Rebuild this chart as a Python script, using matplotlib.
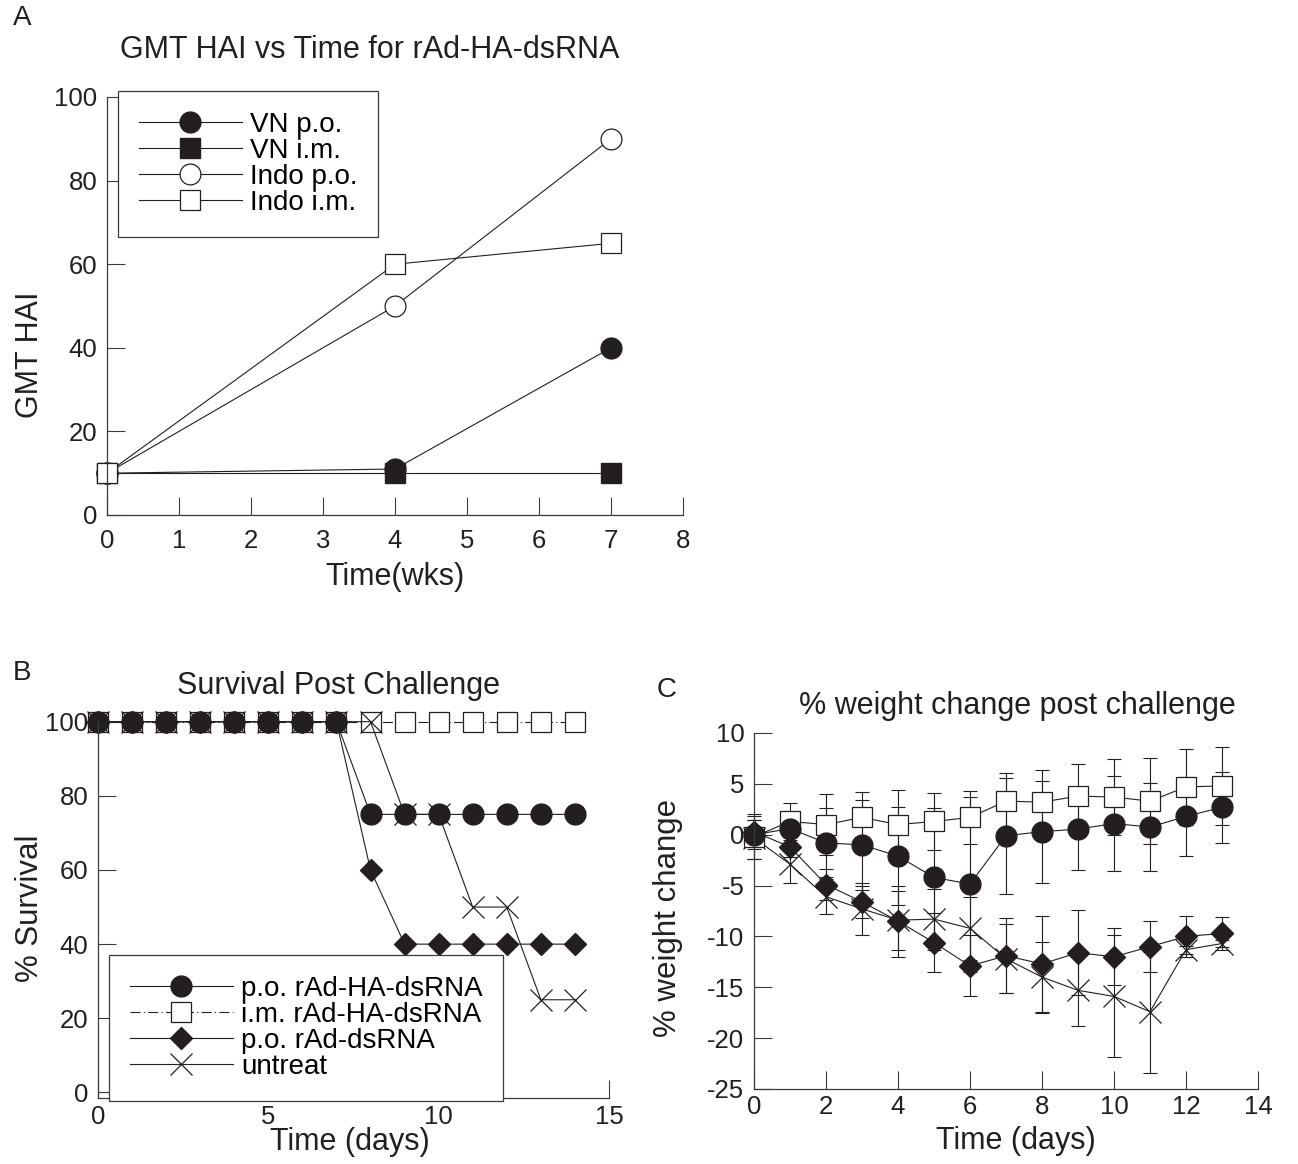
import matplotlib
matplotlib.use("Agg")
import matplotlib.pyplot as plt

plt.rcParams['font.family'] = ['Liberation Sans', 'DejaVu Sans']
plt.rcParams['axes.unicode_minus'] = False

# ---- Panel A: GMT HAI vs time ----
weeks_a = [0, 4, 7]
vn_po = [10, 11, 40]
vn_im = [10, 10, 10]
indo_po = [10, 50, 90]
indo_im = [10, 60, 65]

# ---- Panel B: survival ----
days_b = [0, 1, 2, 3, 4, 5, 6, 7, 8, 9, 10, 11, 12, 13, 14]
surv_po_ha = [100, 100, 100, 100, 100, 100, 100, 100, 75, 75, 75, 75, 75, 75, 75]
surv_im_ha = [100, 100, 100, 100, 100, 100, 100, 100, 100, 100, 100, 100, 100, 100, 100]
surv_po_ds = [100, 100, 100, 100, 100, 100, 100, 100, 60, 40, 40, 40, 40, 40, 40]
surv_untreat = [100, 100, 100, 100, 100, 100, 100, 100, 100, 75, 75, 50, 50, 25, 25]

# ---- Panel C: weight change (mean, sd) ----
days_c = [0, 1, 2, 3, 4, 5, 6, 7, 8, 9, 10, 11, 12, 13]
wt_po_ha = [0.0, 0.6, -0.8, -1.0, -2.1, -4.2, -4.85, -0.1, 0.3, 0.55, 1.1, 0.75, 1.8, 2.7]
sd_po_ha = [1.4, 1.7, 3.4, 4.4, 4.8, 6.8, 8.6, 5.7, 5.0, 4.0, 4.7, 4.3, 3.9, 3.5]
wt_im_ha = [-0.2, 1.3, 1.0, 1.7, 1.0, 1.3, 1.7, 3.3, 3.2, 3.8, 3.7, 3.3, 4.7, 4.8]
sd_im_ha = [2.2, 1.8, 3.0, 2.5, 3.4, 2.8, 2.6, 2.8, 3.2, 3.2, 3.7, 4.2, 3.7, 3.8]
wt_po_ds = [0.3, -1.2, -4.9, -6.6, -8.5, -10.6, -12.9, -11.9, -12.7, -11.6, -12.0, -11.0, -10.0, -9.7]
sd_po_ds = [1.1, 1.0, 1.5, 1.6, 3.5, 2.9, 3.0, 3.7, 4.7, 4.2, 2.8, 2.5, 2.0, 1.6]
wt_untreat = [-0.3, -2.9, -6.1, -7.3, -8.4, -8.3, -9.2, -12.2, -14.0, -15.3, -15.9, -17.4, -11.3, -10.7]
sd_untreat = [2.1, 1.8, 1.7, 2.6, 2.9, 3.0, 3.1, 3.4, 3.5, 3.5, 6.0, 6.0, 0.4, 0.3]

W, H = 1298, 1164
ink = '#231f20'
spine_col = '#3a3a3a'


def px_rect(left, top, right, bottom):
    return [left / W, 1 - bottom / H, (right - left) / W, (bottom - top) / H]


def fig_xy(x, y):
    return x / W, 1 - y / H


def style_axes(ax, pad_x, pad_y):
    for side in ['top', 'right']:
        ax.spines[side].set_visible(False)
    for side in ['left', 'bottom']:
        ax.spines[side].set_color(spine_col)
        ax.spines[side].set_linewidth(0.9)
    ax.tick_params(direction='in', length=13, width=0.8, color=spine_col,
                   labelsize=18.5, labelcolor=ink)
    ax.tick_params(axis='x', pad=pad_x)
    ax.tick_params(axis='y', pad=pad_y)
    ax.set_facecolor('none')


def boxed_legend(ax, handles, labels, left, top):
    leg = ax.legend(handles, labels, loc='upper left', bbox_to_anchor=fig_xy(left, top),
                    bbox_transform=fig.transFigure, borderaxespad=0,
                    fontsize=20, frameon=True, fancybox=False, edgecolor=spine_col,
                    handlelength=3.7, handletextpad=0.3, labelspacing=0.0,
                    borderpad=0.75, framealpha=1)
    leg.get_frame().set_linewidth(0.9)
    leg.set_zorder(5)
    return leg


fig = plt.figure(figsize=(W / 100, H / 100), dpi=100)

# ================= Panel A =================
axA = fig.add_axes(px_rect(107, 97, 683, 515))
style_axes(axA, 10, 7)
axA.set_xlim(0, 8)
axA.set_ylim(0, 100)
axA.set_xticks(range(0, 9))
axA.set_yticks(range(0, 101, 20))

lk = dict(color=ink, lw=0.8, clip_on=False)
axA.plot(weeks_a, vn_po, marker='o', ms=15, mfc=ink, mec=ink, label='VN p.o.', **lk)
axA.plot(weeks_a, vn_im, marker='s', ms=14, mfc=ink, mec=ink, label='VN i.m.', **lk)
axA.plot(weeks_a, indo_po, marker='o', ms=15, mfc='white', mec=ink, mew=0.9, label='Indo p.o.', **lk)
axA.plot(weeks_a, indo_im, marker='s', ms=14, mfc='white', mec=ink, mew=0.9, label='Indo i.m.', **lk)

hA, lA = axA.get_legend_handles_labels()
boxed_legend(axA, hA, lA, 118, 91)

fig.text(*fig_xy(370, 50), 'GMT HAI vs Time for rAd-HA-dsRNA', fontsize=22,
         ha='center', va='center', color=ink)
fig.text(*fig_xy(395, 577), 'Time(wks)', fontsize=22, ha='center', va='center', color=ink)
fig.text(*fig_xy(30, 355), 'GMT HAI', fontsize=22, ha='center', va='center',
         rotation=90, color=ink)
fig.text(*fig_xy(22, 18), 'A', fontsize=20, ha='center', va='center', color=ink)

# ================= Panel B =================
axB = fig.add_axes(px_rect(98, 721.7, 609, 1098))
style_axes(axB, 5, 7)
axB.set_xlim(0, 15)
axB.set_ylim(-1.5, 100)
axB.set_xticks([0, 5, 10, 15])
axB.set_yticks(range(0, 101, 20))

axB.plot(days_b, surv_im_ha, marker='s', ms=14, mfc='white', mec=ink, mew=0.9,
         ls=(0, (9, 3, 1, 3)), label='i.m. rAd-HA-dsRNA', **lk)
axB.plot(days_b, surv_po_ds, marker='D', ms=11, mfc=ink, mec=ink, label='p.o. rAd-dsRNA', **lk)
axB.plot(days_b, surv_untreat, marker='x', ms=16, mec=ink, mew=0.9, label='untreat', **lk)
axB.plot(days_b, surv_po_ha, marker='o', ms=15, mfc=ink, mec=ink, label='p.o. rAd-HA-dsRNA', **lk)

hB, lB = axB.get_legend_handles_labels()
orderB = [3, 0, 1, 2]
boxed_legend(axB, [hB[i] for i in orderB], [lB[i] for i in orderB], 109, 955)

fig.text(*fig_xy(338, 686), 'Survival Post Challenge', fontsize=22,
         ha='center', va='center', color=ink)
fig.text(*fig_xy(350, 1142), 'Time (days)', fontsize=22, ha='center', va='center', color=ink)
fig.text(*fig_xy(30, 908), '% Survival', fontsize=22.5, ha='center', va='center',
         rotation=90, color=ink)
fig.text(*fig_xy(22, 673), 'B', fontsize=20, ha='center', va='center', color=ink)

# ================= Panel C =================
axC = fig.add_axes(px_rect(754, 733, 1258, 1089))
style_axes(axC, 4, 7)
axC.set_xlim(0, 14)
axC.set_ylim(-25, 10)
axC.set_xticks(range(0, 15, 2))
axC.set_yticks(range(-25, 11, 5))

ek = dict(fmt='none', ecolor=ink, elinewidth=0.8, capsize=5, capthick=0.8, clip_on=False)
axC.errorbar(days_c, wt_untreat, yerr=sd_untreat, **ek)
axC.errorbar(days_c, wt_po_ds, yerr=sd_po_ds, **ek)
axC.errorbar(days_c, wt_po_ha, yerr=sd_po_ha, **ek)
axC.errorbar(days_c, wt_im_ha, yerr=sd_im_ha, **ek)

axC.plot(days_c, wt_untreat, marker='x', ms=16, mec=ink, mew=0.9, **lk)
axC.plot(days_c, wt_im_ha, marker='s', ms=14, mfc='white', mec=ink, mew=0.9, **lk)
axC.plot(days_c, wt_po_ha, marker='o', ms=15, mfc=ink, mec=ink, **lk)
axC.plot(days_c, wt_po_ds, marker='D', ms=11, mfc=ink, mec=ink, **lk)

fig.text(*fig_xy(1017, 706), '% weight change post challenge', fontsize=22,
         ha='center', va='center', color=ink)
fig.text(*fig_xy(1016, 1141), 'Time (days)', fontsize=22, ha='center', va='center', color=ink)
fig.text(*fig_xy(668, 918), '% weight change', fontsize=22.5, ha='center', va='center',
         rotation=90, color=ink)
fig.text(*fig_xy(667, 690), 'C', fontsize=20, ha='center', va='center', color=ink)

fig.savefig('out.png', dpi=100, facecolor='white')
